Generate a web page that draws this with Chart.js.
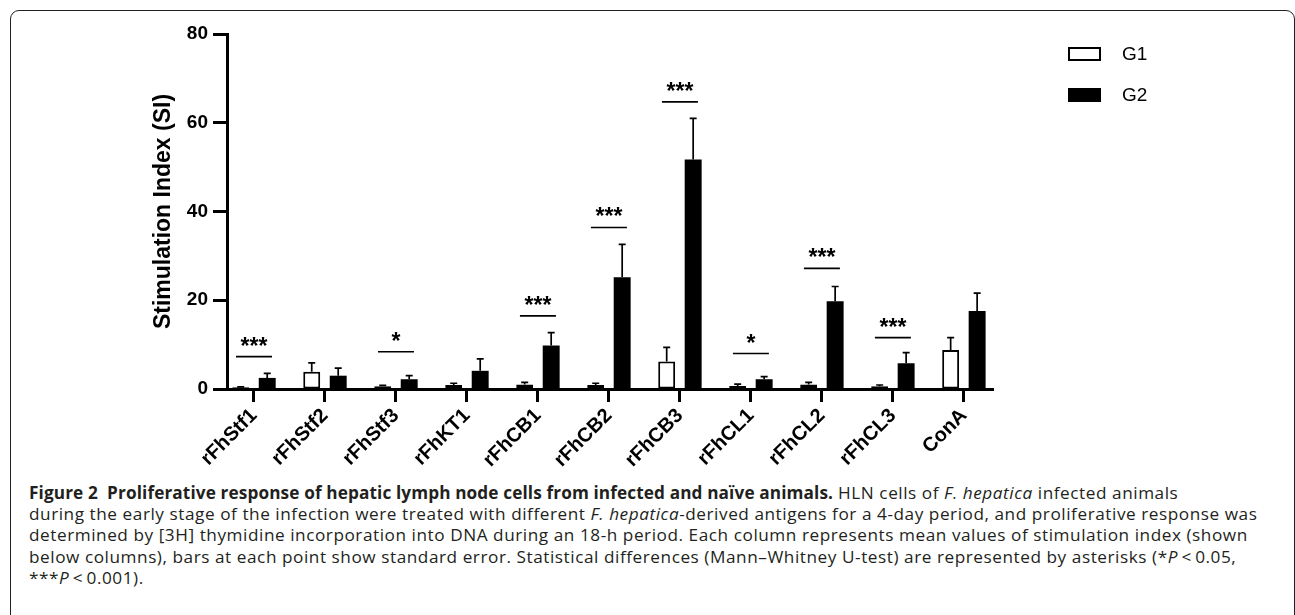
<!DOCTYPE html>
<html>
<head>
<meta charset="utf-8">
<script src="https://cdn.jsdelivr.net/npm/chart.js@4.4.1/dist/chart.umd.min.js"></script>
<style>
  html, body { margin: 0; padding: 0; background: #fff; width: 1295px; height: 615px; overflow: hidden; }
  #frame { position: absolute; left: 10px; top: 10px; width: 1285px; height: 660px; border: 1.5px solid #222; border-radius: 9px; box-sizing: border-box; }
  #chartBox { position: absolute; left: 0; top: 0; width: 1295px; height: 480px; }
  #caption { position: absolute; left: 29px; top: 482px; white-space: nowrap; font-family: 'Open Sans', sans-serif; font-size: 17.2px; letter-spacing: 0.55px; line-height: 21.2px; color: #231f20; }
  #caption b { font-weight: 700; letter-spacing: 0.12px; }
</style>
</head>
<body>
<div id="frame"></div>
<div id="chartBox"><canvas id="chart" width="1295" height="480"></canvas></div>
<div id="caption">
  <b>Figure 2&nbsp;&nbsp;Proliferative response of hepatic lymph node cells from infected and naïve animals.</b> HLN cells of <i>F. hepatica</i> infected animals<br>
  during the early stage of the infection were treated with different <i>F. hepatica</i>-derived antigens for a 4-day period, and proliferative response was<br>
  determined by [3H] thymidine incorporation into DNA during an 18-h period. Each column represents mean values of stimulation index (shown<br>
  below columns), bars at each point show standard error. Statistical differences (Mann–Whitney U-test) are represented by asterisks (*<i>P</i>&thinsp;&lt;&thinsp;0.05,<br>
  ***<i>P</i>&thinsp;&lt;&thinsp;0.001).
</div>
<script>
document.addEventListener('DOMContentLoaded', function() {
  const categories = ['rFhStf1', 'rFhStf2', 'rFhStf3', 'rFhKT1', 'rFhCB1', 'rFhCB2', 'rFhCB3', 'rFhCL1', 'rFhCL2', 'rFhCL3', 'ConA'];
  const seriesNames = ['G1', 'G2'];
  const g1Mean = [0.4, 3.9, 0.6, 0.9, 1.0, 0.9, 6.2, 0.7, 1.0, 0.6, 8.8];
  const g1Err = [0.1, 2.0, 0.2, 0.4, 0.5, 0.4, 3.2, 0.4, 0.5, 0.3, 2.8];
  const g2Mean = [2.5, 3.0, 2.2, 4.1, 9.8, 25.2, 51.7, 2.2, 19.8, 5.8, 17.6];
  const g2Err = [1.0, 1.7, 0.8, 2.7, 2.9, 7.4, 9.3, 0.6, 3.3, 2.4, 4.0];
  // height of the significance bar over each pair, and its label
  const sigLevel = [7.3, null, 8.4, null, 16.5, 36.4, 64.7, 8.0, 27.2, 11.6, null];
  const sigMark = ['***', '', '*', '', '***', '***', '***', '*', '***', '***', ''];
  const yTicks = [0, 20, 40, 60, 80];

  const errs = [g1Err, g2Err];

  // Error bars (upper half only, with cap)
  const errorBars = {
    id: 'errorBars',
    afterDatasetsDraw(chart) {
      const ctx = chart.ctx;
      const y = chart.scales.y;
      chart.data.datasets.forEach((ds, d) => {
        chart.getDatasetMeta(d).data.forEach((bar, i) => {
          const top = y.getPixelForValue(ds.data[i].y + errs[d][i]);
          ctx.save();
          ctx.strokeStyle = '#000';
          ctx.lineWidth = 1.7;
          ctx.beginPath();
          ctx.moveTo(bar.x, bar.y);
          ctx.lineTo(bar.x, top);
          ctx.moveTo(bar.x - 3.5, top);
          ctx.lineTo(bar.x + 3.5, top);
          ctx.stroke();
          ctx.restore();
        });
      });
    }
  };

  // Significance lines and asterisks
  const sigBars = {
    id: 'sigBars',
    afterDatasetsDraw(chart) {
      const ctx = chart.ctx;
      const x = chart.scales.x, y = chart.scales.y;
      sigLevel.forEach((lvl, i) => {
        if (lvl === null) return;
        const cx = x.getPixelForValue(i);
        const ly = y.getPixelForValue(lvl);
        ctx.save();
        ctx.strokeStyle = '#000';
        ctx.lineWidth = 1.7;
        ctx.beginPath();
        ctx.moveTo(cx - 18, ly);
        ctx.lineTo(cx + 18, ly);
        ctx.stroke();
        ctx.fillStyle = '#000';
        ctx.font = 'bold 23px "Liberation Sans"';
        ctx.textAlign = 'center';
        ctx.textBaseline = 'alphabetic';
        ctx.fillText(sigMark[i], cx, ly - 3);
        ctx.restore();
      });
    }
  };

  // Legend at the top right, outside the plot
  const sideLegend = {
    id: 'sideLegend',
    afterDraw(chart) {
      const ctx = chart.ctx;
      const left = chart.chartArea.right + 75;
      chart.data.datasets.forEach((ds, d) => {
        const top = 47 + d * 41;
        ctx.save();
        ctx.fillStyle = ds.backgroundColor;
        ctx.fillRect(left, top, 33, 14);
        ctx.strokeStyle = '#000';
        ctx.lineWidth = 2;
        ctx.strokeRect(left + 1, top + 1, 31, 12);
        ctx.fillStyle = '#000';
        ctx.font = '19px "Liberation Sans"';
        ctx.textBaseline = 'middle';
        ctx.fillText(ds.label, left + 54, top + 8);
        ctx.restore();
      });
    }
  };

  const tickFont = { family: 'Liberation Sans', weight: 'bold', size: 19 };

  new Chart(document.getElementById('chart'), {
    type: 'bar',
    data: {
      datasets: [
        { label: seriesNames[0], data: g1Mean.map((v, i) => ({ x: i, y: v })), backgroundColor: '#ffffff', borderColor: '#000', borderWidth: 2, borderSkipped: false },
        { label: seriesNames[1], data: g2Mean.map((v, i) => ({ x: i, y: v })), backgroundColor: '#000000', borderColor: '#000', borderWidth: 0 }
      ]
    },
    options: {
      responsive: false,
      animation: false,
      devicePixelRatio: 1,
      categoryPercentage: 0.746,
      barPercentage: 0.64,
      layout: { padding: { left: 150, right: 302, top: 34, bottom: 0 } },
      plugins: { legend: { display: false }, tooltip: { enabled: false } },
      scales: {
        x: {
          type: 'linear',
          offset: false,
          min: -0.38,
          max: 10.41,
          grid: { display: true, offset: false, drawOnChartArea: false, drawTicks: true, tickLength: 13, tickWidth: 3, tickColor: '#000' },
          border: { display: true, width: 3, color: '#000' },
          ticks: {
            stepSize: 1,
            includeBounds: false,
            autoSkip: false,
            minRotation: 45,
            maxRotation: 45,
            padding: 2,
            color: '#000',
            font: { family: 'Liberation Sans', weight: 'bold', size: 20 },
            callback: v => categories[v]
          },
          afterFit: s => { s.height = 91; }
        },
        y: {
          min: yTicks[0],
          max: yTicks[yTicks.length - 1],
          grid: { display: true, drawOnChartArea: false, drawTicks: true, tickLength: 14, tickWidth: 3, tickColor: '#000' },
          border: { display: true, width: 3, color: '#000' },
          ticks: { stepSize: 20, padding: 5, color: '#000', font: tickFont },
          afterBuildTicks: s => { s.ticks = yTicks.map(v => ({ value: v })); },
          title: {
            display: true,
            text: 'Stimulation Index (SI)',
            color: '#000',
            font: { family: 'Liberation Sans', weight: 'bold', size: 23 },
            padding: { top: 0, bottom: 4 }
          },
          afterFit: s => { s.width = 77; }
        }
      }
    },
    plugins: [errorBars, sigBars, sideLegend]
  });
});
</script>
</body>
</html>
